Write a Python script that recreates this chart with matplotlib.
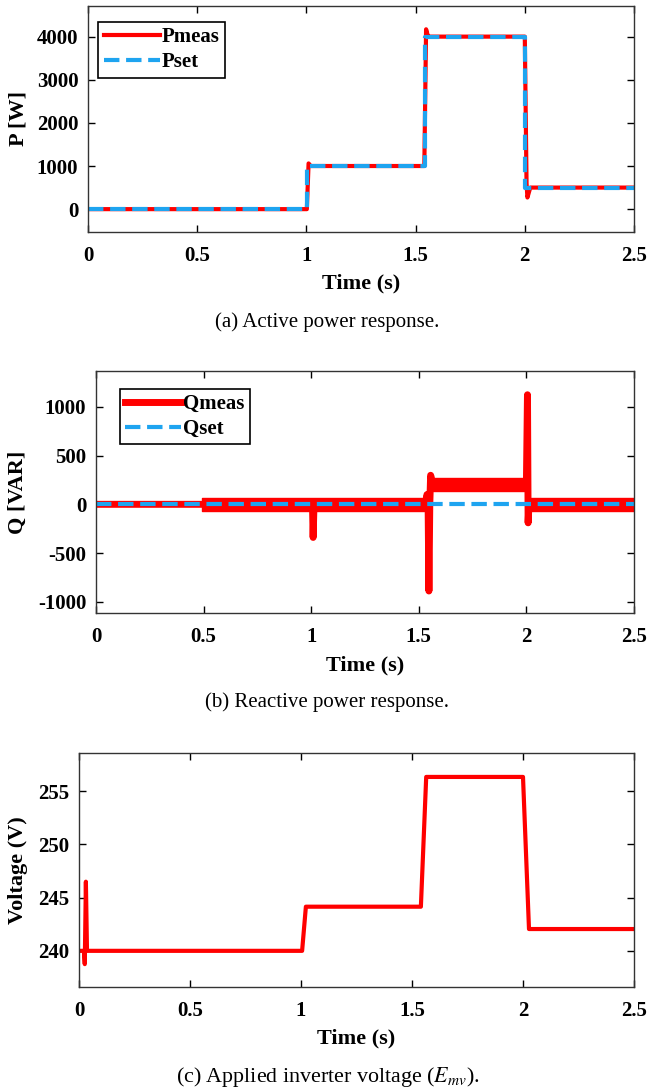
import matplotlib
matplotlib.use("Agg")
import matplotlib.pyplot as plt
from matplotlib.transforms import blended_transform_factory

plt.rcParams["font.family"] = ["Liberation Serif", "DejaVu Serif"]
plt.rcParams["mathtext.fontset"] = "stix"
plt.rcParams["axes.unicode_minus"] = False

RED = "#ff0000"
BLUE = "#1ea4f0"

# (a) active power
t_pset = [0, 1.005, 1.005, 1.543, 1.543, 2.0, 2.0, 2.5]
p_set = [0, 0, 1000, 1000, 4000, 4000, 500, 500]
t_pmeas = [0, 1.002, 1.01, 1.02, 1.54, 1.548, 1.556, 1.565, 2.0, 2.008, 2.012, 2.025, 2.5]
p_meas = [0, 0, 1060, 1000, 1000, 4170, 4020, 4000, 4000, 600, 270, 500, 500]

# (b) reactive power
t_qmeas = [0, 0.5, 1.006, 1.009, 1.013, 1.53, 1.538, 1.543, 1.547, 1.551, 1.555, 1.565,
           2.0, 2.005, 2.008, 2.012, 2.02, 2.5]
q_meas = [0, 0, 0, -340, 0, 0, 100, 60, -890, 0, 298, 210,
          210, 1125, -190, 0, 0, 0]
band_t0 = [0.493, 1.555, 2.01]
band_t1 = [1.54, 2.0, 2.5]
band_lo = [-65, 140, -68]
band_hi = [65, 270, 62]
t_qset = [0, 2.5]
q_set = [0, 0]

# (c) applied inverter voltage
t_volt = [0, 0.022, 0.026, 0.031, 0.036, 1.005, 1.022, 1.54, 1.564, 2.0, 2.027, 2.5]
volt = [240, 240, 238.75, 246.5, 240, 240, 244.15, 244.15, 256.35, 256.35, 242.05, 242.05]

W, H = 647, 1092
fig = plt.figure(figsize=(W / 100, H / 100), dpi=100)


def make_axes(left, right, top, bottom):
    return fig.add_axes([left / W, 1 - bottom / H, (right - left) / W, (bottom - top) / H])


def style(ax, ylabel, xlabel_y):
    ax.set_xlim(0, 2.5)
    ax.set_xticks([0, 0.5, 1, 1.5, 2, 2.5])
    ax.set_xticklabels(["0", "0.5", "1", "1.5", "2", "2.5"])
    ax.tick_params(direction="in", top=True, right=True, length=5, width=1,
                   labelsize=15, pad=7)
    ax.tick_params(axis="x", pad=10)
    for lab in ax.get_xticklabels() + ax.get_yticklabels():
        lab.set_fontweight("bold")
    for s in ax.spines.values():
        s.set_linewidth(1.0)
        s.set_color("#333333")
    ax.set_xlabel("Time (s)", fontsize=16, fontweight="bold")
    ax.set_ylabel(ylabel, fontsize=16, fontweight="bold")
    ax.yaxis.set_label_coords(18 / W, 0.5,
                              transform=blended_transform_factory(fig.transFigure, ax.transAxes))
    ax.xaxis.set_label_coords(0.5, 1 - xlabel_y / H,
                              transform=blended_transform_factory(ax.transAxes, fig.transFigure))
    ax.xaxis.label.set_va("center")
    ax.yaxis.label.set_va("center")


def legend(ax, anchor):
    leg = ax.legend(loc="upper left", handlelength=2.7, handletextpad=0.1,
                    borderpad=0.25, labelspacing=0.25, fancybox=False, framealpha=1,
                    prop={"weight": "bold", "size": 15}, bbox_to_anchor=anchor)
    leg.get_frame().set_edgecolor("black")
    leg.get_frame().set_linewidth(1.2)


# panel (a)
ax1 = make_axes(88, 634, 6, 232)
ax1.plot(t_pmeas, p_meas, color=RED, lw=3, label="Pmeas")
ax1.plot(t_pset, p_set, color=BLUE, lw=3, ls="--", label="Pset")
ax1.set_ylim(-530, 4710)
ax1.set_yticks([0, 1000, 2000, 3000, 4000])
style(ax1, "P [W]", 283)
legend(ax1, (0.0, 0.975))

# panel (b)
ax2 = make_axes(96, 634, 371, 613)
for a, b, lo, hi in zip(band_t0, band_t1, band_lo, band_hi):
    ax2.fill_between([a, b], [lo, lo], [hi, hi], color=RED, lw=1)
ax2.plot(t_qmeas, q_meas, color=RED, lw=5, label="Qmeas")
ax2.plot(t_qset, q_set, color=BLUE, lw=3, ls="--", label="Qset")
ax2.set_ylim(-1116, 1369)
ax2.set_yticks([-1000, -500, 0, 500, 1000])
style(ax2, "Q [VAR]", 665)
legend(ax2, (0.025, 0.97))

# panel (c)
ax3 = make_axes(79, 634, 753, 987)
ax3.plot(t_volt, volt, color=RED, lw=3)
ax3.set_ylim(236.6, 258.6)
ax3.set_yticks([240, 245, 250, 255])
style(ax3, "Voltage (V)", 1038)

# captions
fig.text(0.505, 1 - 322 / H, "(a) Active power response.", ha="center", va="center", fontsize=15)
fig.text(0.505, 1 - 702 / H, "(b) Reactive power response.", ha="center", va="center", fontsize=15)
fig.text(0.507, 1 - 1077 / H, r"(c) Applied inverter voltage ($E_{mv}$).", ha="center", va="center", fontsize=15.8)

fig.savefig("out.png", dpi=100)
